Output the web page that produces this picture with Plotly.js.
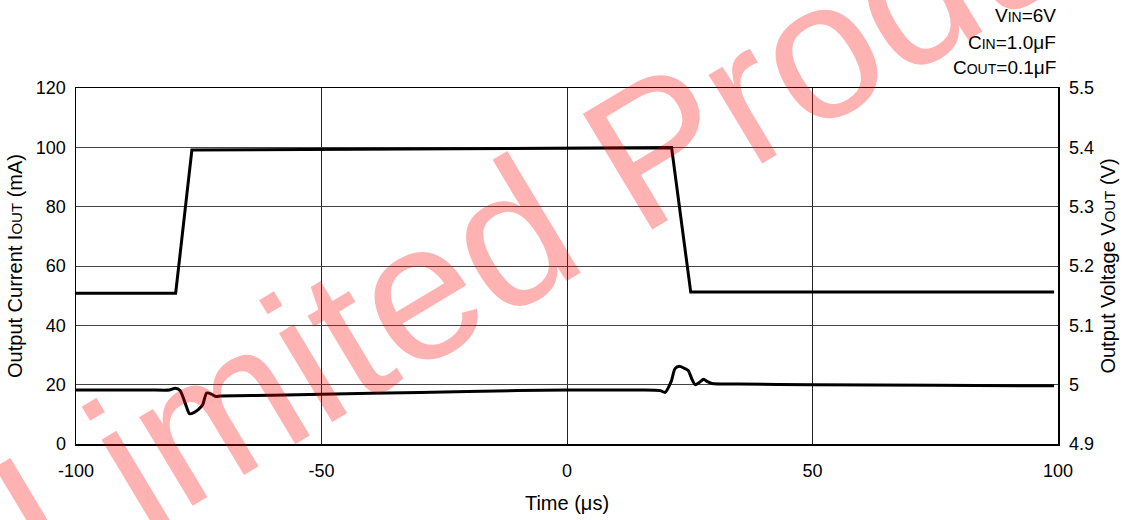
<!DOCTYPE html>
<html>
<head>
<meta charset="utf-8">
<script src="https://cdn.plot.ly/plotly-3.0.1.min.js"></script>
<style>html,body{margin:0;padding:0;background:#fff;}#chart{width:1127px;height:520px;}</style>
</head>
<body>
<div id="chart"></div>
<script>
// Output current (mA) vs time (us)
const currentTime = [-100, -79.7, -76.4, 21.3, 25.2, 99.2];
const currentMA   = [50.8, 50.8, 99.1, 99.9, 51.2, 51.2];

// Output voltage (V) vs time (us)
const voltageTime = [-100, -85, -81, -79.8, -78.8, -77.6, -76.9, -76.0, -75.1, -74.2, -73.4, -72.4, -71.5, -70.5, -60, -50, -30, -10, 0, 15, 19.0, 20.0, 21.2, 22.0, 22.9, 23.8, 24.7, 25.4, 26.1, 27.0, 27.8, 28.6, 29.5, 35, 50, 75, 99.2];
const voltageV    = [4.991, 4.991, 4.991, 4.994, 4.990, 4.965, 4.951, 4.953, 4.958, 4.966, 4.986, 4.984, 4.980, 4.981, 4.982, 4.984, 4.987, 4.990, 4.991, 4.991, 4.990, 4.987, 5.005, 5.027, 5.031, 5.028, 5.024, 5.010, 5.000, 5.004, 5.009, 5.005, 5.002, 5.001, 5.000, 4.999, 4.998];

const xTickVals = [-100, -50, 0, 50, 100];
const xTickText = ['-100', '-50', '0', '50', '100'];
const yLeftTicks = [0, 20, 40, 60, 80, 100, 120];
const yRightTicks = [4.9, 5, 5.1, 5.2, 5.3, 5.4, 5.5];
const yRightText = ['4.9', '5', '5.1', '5.2', '5.3', '5.4', '5.5'];

const conditions = [
  'V<span style="font-size:14px">IN</span>=6V',
  'C<span style="font-size:14px">IN</span>=1.0μF',
  'C<span style="font-size:14px">OUT</span>=0.1μF'
];
const watermark = 'Limited Product';

const FONT = 'Liberation Sans, Arial, Helvetica, sans-serif';

const traces = [
  {x: currentTime, y: currentMA, type: 'scatter', mode: 'lines', yaxis: 'y',
   line: {color: '#000', width: 3}, hoverinfo: 'skip', showlegend: false},
  {x: voltageTime, y: voltageV, type: 'scatter', mode: 'lines', yaxis: 'y2',
   line: {color: '#000', width: 3, shape: 'spline', smoothing: 0.6}, hoverinfo: 'skip', showlegend: false}
];

const condY = [1.203, 1.129, 1.058];
const annotations = conditions.map((t, i) => ({
  text: t, xref: 'paper', yref: 'paper', x: 1.0, y: condY[i],
  xanchor: 'right', yanchor: 'middle', showarrow: false,
  font: {family: FONT, size: 19, color: '#000'}
}));
annotations.push({
  text: watermark, xref: 'paper', yref: 'paper', x: 0.533, y: 0.735,
  xanchor: 'center', yanchor: 'middle', showarrow: false, textangle: -31,
  font: {family: FONT, size: 196, color: 'rgba(255,0,0,0.3)'}
});

const layout = {
  width: 1127, height: 520,
  margin: {l: 76, r: 69, t: 88, b: 76, pad: 0},
  paper_bgcolor: '#fff', plot_bgcolor: '#fff',
  font: {family: FONT, size: 18, color: '#000'},
  xaxis: {
    range: [-100, 100], tickvals: xTickVals, ticktext: xTickText,
    showgrid: true, gridcolor: '#222', gridwidth: 1,
    zeroline: false, showline: true, linecolor: '#000', linewidth: 1.5, mirror: true,
    ticks: '', ticklabelstandoff: 10,
    tickfont: {family: FONT, size: 18, color: '#000'},
    title: {text: 'Time (μs)', font: {family: FONT, size: 20, color: '#000'}, standoff: 16}
  },
  yaxis: {
    range: [0, 120], tickvals: yLeftTicks,
    showgrid: true, gridcolor: '#444', gridwidth: 1,
    zeroline: false, showline: true, linecolor: '#000', linewidth: 1.5, mirror: true,
    ticks: '', ticklabelstandoff: 5,
    tickfont: {family: FONT, size: 18, color: '#000'},
    title: {text: 'Output Current I<span style="font-size:15px">OUT</span> (mA)', font: {family: FONT, size: 20, color: '#000'}, standoff: 8}
  },
  yaxis2: {
    range: [4.9, 5.5], tickvals: yRightTicks, ticktext: yRightText,
    overlaying: 'y', side: 'right', showgrid: false, zeroline: false,
    showline: true, linecolor: '#000', linewidth: 1.5,
    ticks: '', ticklabelstandoff: 6,
    tickfont: {family: FONT, size: 18, color: '#000'},
    title: {text: 'Output Voltage V<span style="font-size:15px">OUT</span> (V)', font: {family: FONT, size: 20, color: '#000'}, standoff: 8}
  },
  annotations: annotations
};

Plotly.newPlot('chart', traces, layout, {staticPlot: true, displayModeBar: false});
</script>
</body>
</html>
